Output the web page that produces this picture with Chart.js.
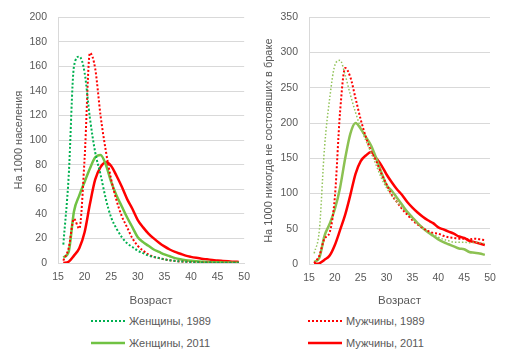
<!DOCTYPE html>
<html>
<head>
<meta charset="utf-8">
<script src="https://cdn.jsdelivr.net/npm/chart.js@4/dist/chart.umd.min.js"></script>
<style>
  html, body { margin: 0; padding: 0; background: #fff; }
  body { width: 516px; height: 356px; position: relative; overflow: hidden; font-family: "Liberation Sans", Arial, sans-serif; }
  .c { position: absolute; top: 0; }
  .leg { position: absolute; font-size: 11px; color: #595959; line-height: 14px; white-space: nowrap; }
  .leg svg { position: absolute; left: 0; top: 5px; }
  .leg span { position: absolute; left: 38px; top: 0; }
</style>
</head>
<body>
<div class="c" style="left:0;width:258px;height:310px;"><canvas id="left"></canvas></div>
<div class="c" style="left:258px;width:258px;height:310px;"><canvas id="right"></canvas></div>

<div class="leg" style="left:91px;top:314px;">
  <svg width="34" height="4"><line x1="0" y1="2" x2="34" y2="2" stroke="#00B050" stroke-width="2" stroke-dasharray="2,2"/></svg>
  <span>Женщины, 1989</span>
</div>
<div class="leg" style="left:91px;top:336px;">
  <svg width="34" height="4"><line x1="0" y1="2" x2="34" y2="2" stroke="#70C243" stroke-width="2.5"/></svg>
  <span>Женщины, 2011</span>
</div>
<div class="leg" style="left:308px;top:314px;">
  <svg width="34" height="4"><line x1="0" y1="2" x2="34" y2="2" stroke="#FF0000" stroke-width="2" stroke-dasharray="2,2"/></svg>
  <span>Мужчины, 1989</span>
</div>
<div class="leg" style="left:308px;top:336px;">
  <svg width="34" height="4"><line x1="0" y1="2" x2="34" y2="2" stroke="#FF0000" stroke-width="2.5"/></svg>
  <span>Мужчины, 2011</span>
</div>

<script>
// Ages (x categories)
const ages = [16,17,18,19,20,21,22,23,24,25,26,27,28,29,30,31,32,33,34,35,36,37,38,39,40,41,42,43,44,45,46,47,48,49];

// Left panel: per 1000 population
const womenPop1989 = [15,70,160,168,155,118,90,72,52,37,28,21,16,13,10,8,6,5,4,3,2.2,1.7,1.3,1,0.8,0.6,0.5,0.4,0.3,0.3,0.2,0.2,0.2,0.2];
const menPop1989   = [2,12,36,28,85,171,158,120,91,68,51,38,29,20,14,10,7,5,4,3,2.2,1.6,1.2,1,0.8,0.6,0.5,0.4,0.3,0.3,0.2,0.2,0.2,0.2];
const womenPop2011 = [4.5,9,42,55,66,77,86,88,80,66,55,46,37,29,21,17,14,11,9,7,5.5,4,3,2.3,1.8,1.4,1.1,0.9,0.7,0.6,0.5,0.4,0.3,0.3];
const menPop2011   = [0,1,6,12,25,48,68,78,82,79,71,62,52,44,35,29,24,20,16.5,13.5,11,9,7.5,6,5,4.2,3.5,3,2.5,2,1.7,1.4,1.1,0.9];

// Right panel: per 1000 never married
const womenNM1989 = [15,48,165,235,282,289,268,240,215,193,175,158,140,122,108,97,88,80,72,64,57,51,46,42,38,35,33,31,31,31,30,31,30,29];
const menNM1989   = [1,12,36,45,95,215,278,265,235,205,180,160,146,128,113,98,88,78,70,62,56,51,47,44,43,40,38,37,36,36,35,36,35,34];
const womenNM2011 = [3,9,40,57,78,108,150,185,200,192,180,168,150,130,112,104,94,84,74,66,58,51,45,40,35,31,28,25,22,21,17,16,15,13];
const menNM2011   = [0,1,6,12,27,48,70,98,128,146,154,159,150,140,127,116,106,98,88,80,73,67,62,58,52,49,46,43,39,37,33,31,29,27];

const xTicks = [15,20,25,30,35,40,45,50];
const leftYMax = 200, leftYStep = 20;
const rightYMax = 350, rightYStep = 50;

const FONT = "'Liberation Sans', Arial, sans-serif";
const TXT = '#595959';
const GRID = '#D9D9D9';

function pts(vals) { return vals.map((v, i) => ({ x: ages[i], y: v })); }

function ds(label, vals, color, width, dash) {
  return {
    label, data: pts(vals), borderColor: color, backgroundColor: color,
    borderWidth: width, borderDash: dash || [], pointRadius: 0,
    cubicInterpolationMode: 'monotone',
    fill: false, borderCapStyle: 'butt', borderJoinStyle: 'round'
  };
}

function makeChart(id, datasets, yMax, yStep, yTitle, yWidth, rightPad, titlePad, xHeight) {
  return new Chart(document.getElementById(id), {
    type: 'line',
    data: { datasets },
    options: {
      responsive: true, maintainAspectRatio: false, animation: false,
      layout: { padding: { left: 0, right: rightPad, top: 14, bottom: 0 } },
      plugins: { legend: { display: false }, tooltip: { enabled: false } },
      scales: {
        x: {
          type: 'linear', min: 15, max: 50,
          afterBuildTicks: (s) => { s.ticks = xTicks.map(v => ({ value: v })); },
          grid: { display: false, drawTicks: false },
          border: { display: true, color: GRID },
          ticks: { color: TXT, font: { family: FONT, size: 10.5 }, padding: 8, maxRotation: 0 },
          title: { display: true, text: 'Возраст', color: TXT, font: { family: FONT, size: 11.5 }, padding: { top: 0, bottom: 2 } },
          afterFit: (s) => { s.height = xHeight; }
        },
        y: {
          min: 0, max: yMax,
          ticks: { stepSize: yStep, color: TXT, font: { family: FONT, size: 10.5 }, padding: 11 },
          grid: { color: GRID, lineWidth: 1, drawTicks: false },
          border: { display: true, color: GRID },
          title: { display: true, text: yTitle, color: TXT, font: { family: FONT, size: 11 }, padding: { top: titlePad, bottom: 0 } },
          afterFit: (s) => { s.width = yWidth; }
        }
      }
    }
  });
}

makeChart('left', [
  ds('Женщины, 1989', womenPop1989, '#00B050', 2, [2, 2]),
  ds('Мужчины, 1989', menPop1989, '#FF0000', 2, [2, 2]),
  ds('Женщины, 2011', womenPop2011, '#70C243', 2.5),
  ds('Мужчины, 2011', menPop2011, '#FF0000', 2.5)
], leftYMax, leftYStep, 'На 1000 населения', 58, 8, 12, 47);

makeChart('right', [
  ds('Женщины, 1989', womenNM1989, '#92C35A', 1.5, [1.5, 2]),
  ds('Мужчины, 1989', menNM1989, '#FF0000', 2, [2, 2]),
  ds('Женщины, 2011', womenNM2011, '#8CC152', 2.5),
  ds('Мужчины, 2011', menNM2011, '#FF0000', 2.5)
], rightYMax, rightYStep, 'На 1000 никогда не состоявших в браке', 51, 26, 4, 46);
</script>
</body>
</html>
